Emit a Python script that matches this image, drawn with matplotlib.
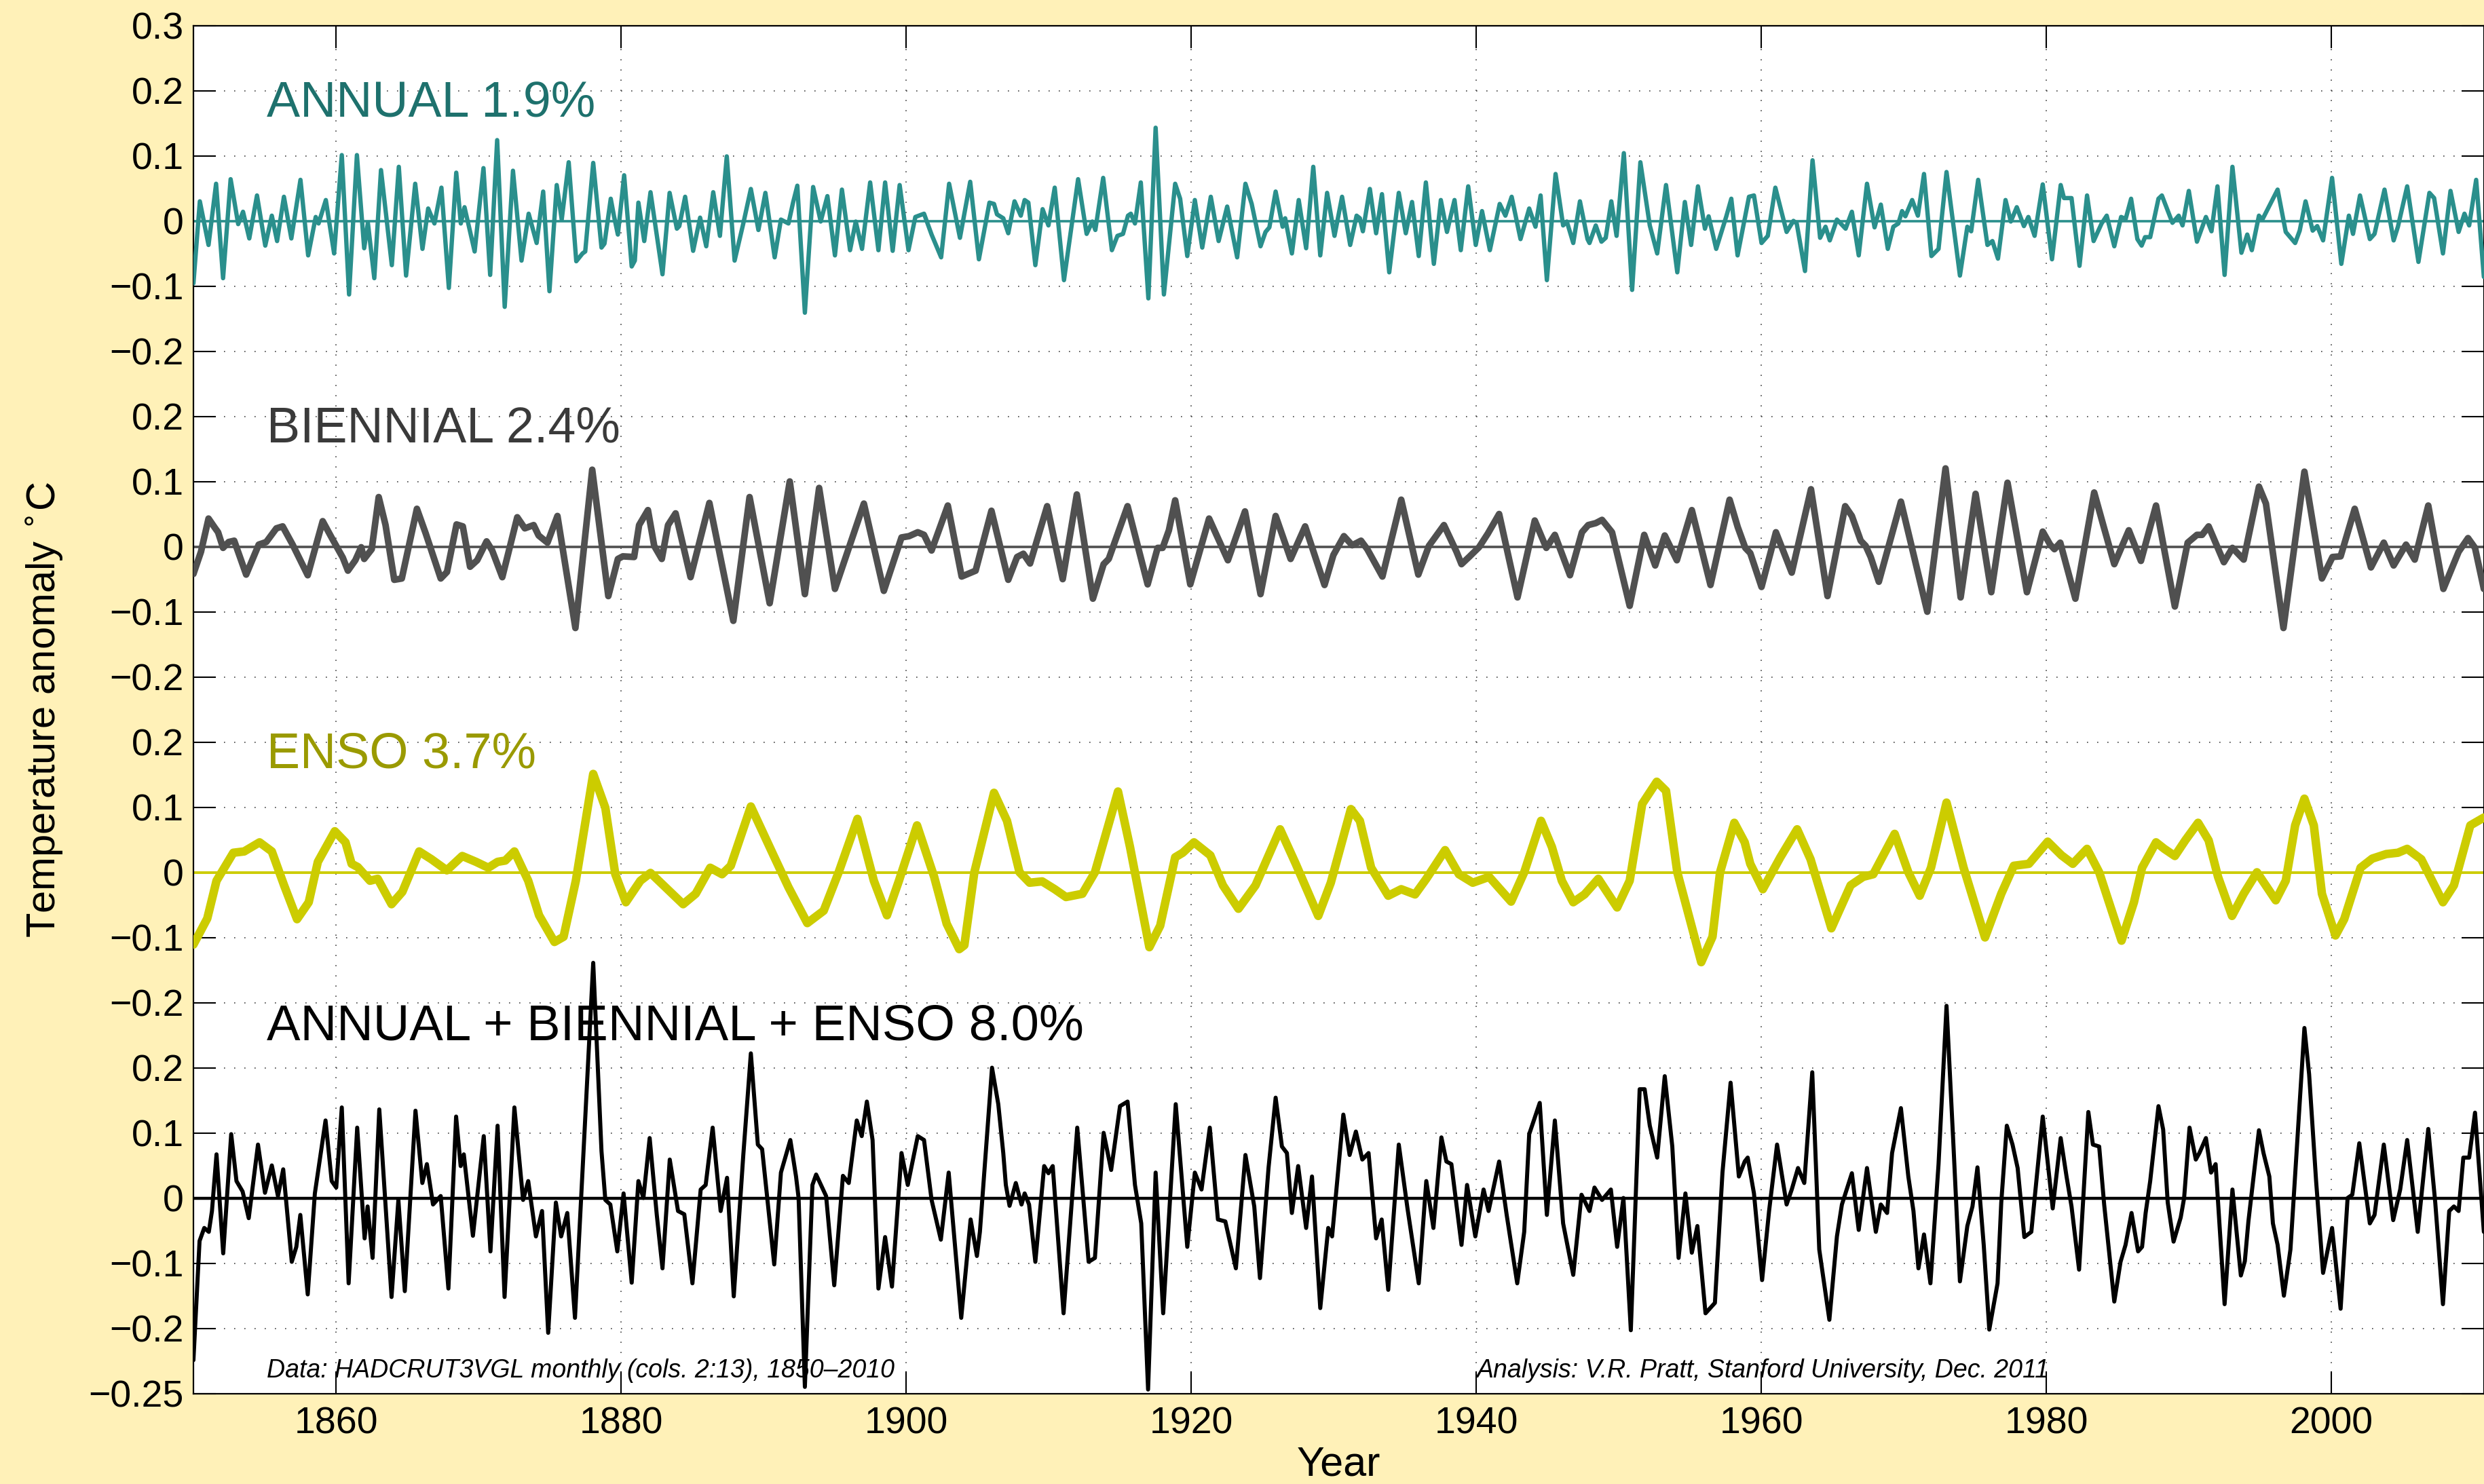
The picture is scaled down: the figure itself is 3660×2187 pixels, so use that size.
import matplotlib
matplotlib.use('Agg')
import matplotlib.pyplot as plt
import numpy as np

plt.rcParams['font.family'] = ['Liberation Sans', 'DejaVu Sans']

# ---------------- data ----------------
annual_year = [1850.0, 1850.45, 1851.06, 1851.59, 1852.08, 1852.61, 1853.14, 1853.48, 1853.92, 1854.46, 1855.04, 1855.50, 1855.87, 1856.35, 1856.87, 1857.51, 1858.05, 1858.58, 1858.78, 1859.29, 1859.87, 1860.41, 1860.92, 1861.47, 1861.98, 1862.24, 1862.69, 1863.16, 1863.92, 1864.41, 1864.92, 1865.56, 1866.07, 1866.47, 1866.91, 1867.40, 1867.92, 1868.44, 1868.76, 1869.02, 1869.73, 1870.35, 1870.82, 1871.31, 1871.84, 1872.42, 1873.02, 1873.52, 1874.08, 1874.54, 1874.98, 1875.49, 1875.84, 1876.33, 1876.86, 1877.30, 1877.49,
               1878.05, 1878.63, 1878.84, 1879.28, 1879.51, 1879.78, 1880.22, 1880.75, 1880.97, 1881.22, 1881.63, 1882.07, 1882.91, 1883.41, 1883.92, 1884.09, 1884.50, 1885.06, 1885.55, 1885.98, 1886.47, 1886.94, 1887.42, 1887.97, 1888.58, 1889.11, 1889.64, 1890.13, 1890.78, 1891.22, 1891.75, 1892.07, 1892.37, 1892.90, 1893.48, 1894.01, 1894.48, 1895.01, 1895.50, 1896.07, 1896.47, 1896.91, 1897.48, 1898.06, 1898.53, 1899.06, 1899.55, 1900.17, 1900.65, 1901.26, 1901.79, 1902.46, 1903.02, 1903.78, 1904.50,
               1905.11, 1905.85, 1906.17, 1906.38, 1906.82, 1907.17, 1907.61, 1908.05, 1908.32, 1908.58, 1909.07, 1909.58, 1909.99, 1910.43, 1911.08, 1912.07, 1912.67, 1913.07, 1913.28, 1913.83, 1914.44, 1914.83, 1915.22, 1915.57, 1915.77, 1916.06, 1916.47, 1917.00, 1917.51, 1918.09, 1918.88, 1919.23, 1919.73, 1920.26, 1920.78, 1921.38, 1921.93, 1922.53, 1923.23, 1923.81, 1924.25, 1924.87, 1925.22, 1925.49, 1925.93, 1926.42, 1926.60, 1927.07, 1927.55, 1928.07, 1928.57, 1929.06, 1929.54, 1930.06, 1930.59, 1931.16,
               1931.61, 1931.84, 1932.05, 1932.54, 1932.98, 1933.39, 1933.90, 1934.57, 1935.06, 1935.50, 1935.97, 1936.47, 1937.03, 1937.52, 1937.95, 1938.48, 1938.92, 1939.44, 1939.97, 1940.41, 1940.96, 1941.65, 1942.05, 1942.49, 1943.11, 1943.72, 1944.16, 1944.52, 1944.96, 1945.57, 1946.10, 1946.36, 1946.81, 1947.28, 1947.81, 1947.95, 1948.39, 1948.79, 1949.09, 1949.48, 1949.85, 1950.36, 1950.94, 1951.52, 1951.86, 1952.18, 1952.70, 1953.32, 1954.11, 1954.64, 1955.08, 1955.56, 1956.05, 1956.31, 1956.84, 1957.55, 1957.90, 1958.34,
               1959.14, 1959.49, 1960.02, 1960.46, 1960.99, 1961.78, 1962.26, 1962.49, 1963.07, 1963.60, 1964.13, 1964.51, 1964.81, 1965.31, 1965.92, 1966.36, 1966.84, 1967.42, 1967.95, 1968.39, 1968.88, 1969.27, 1969.62, 1969.88, 1970.11, 1970.59, 1970.99, 1971.42, 1971.94, 1972.44, 1973.00, 1973.94, 1974.46, 1974.73, 1975.22, 1975.87, 1976.22, 1976.61, 1977.14, 1977.51, 1977.93, 1978.43, 1978.74, 1979.18, 1979.75, 1980.40, 1981.01, 1981.24, 1981.77, 1982.33, 1982.86, 1983.32, 1983.88, 1984.24, 1984.77,
               1985.25, 1985.57, 1985.95, 1986.39, 1986.69, 1986.93, 1987.29, 1987.87, 1988.11, 1988.85, 1989.29, 1989.56, 1990.00, 1990.57, 1991.20, 1991.59, 1992.01, 1992.51, 1993.06, 1993.69, 1994.10, 1994.42, 1994.92, 1995.16, 1995.65, 1996.23, 1996.80, 1997.46, 1997.78, 1998.19, 1998.69, 1999.01, 1999.42, 2000.05, 2000.70, 2001.23, 2001.52, 2002.01, 2002.70, 2003.03, 2003.73, 2004.37, 2004.67, 2005.32, 2006.11, 2006.88, 2007.21, 2007.83, 2008.36, 2008.93, 2009.34, 2009.67, 2010.16, 2010.70]
annual_val = [-0.096, 0.030, -0.037, 0.057, -0.088, 0.064, -0.005, 0.014, -0.027, 0.039, -0.038, 0.008, -0.031, 0.037, -0.027, 0.063, -0.053, 0.006, -0.004, 0.032, -0.050, 0.101, -0.113, 0.101, -0.042, -0.003, -0.088, 0.078, -0.068, 0.083, -0.084, 0.057, -0.043, 0.019, -0.004, 0.051, -0.103, 0.074, -0.004, 0.021, -0.047, 0.081, -0.083, 0.124, -0.132, 0.077, -0.061, 0.011, -0.034, 0.045, -0.108, 0.055, 0.002, 0.090, -0.062, -0.050, -0.047,
              0.089, -0.041, -0.035, 0.034, 0.007, -0.021, 0.070, -0.070, -0.061, 0.028, -0.031, 0.044, -0.082, 0.043, -0.012, -0.008, 0.037, -0.046, 0.005, -0.039, 0.044, -0.023, 0.099, -0.061, -0.004, 0.049, -0.014, 0.043, -0.056, 0.002, -0.004, 0.028, 0.054, -0.141, 0.052, -0.001, 0.038, -0.053, 0.048, -0.045, -0.001, -0.043, 0.059, -0.045, 0.059, -0.046, 0.055, -0.045, 0.006, 0.011, -0.021, -0.056, 0.057, -0.026, 0.060,
              -0.059, 0.028, 0.026, 0.010, 0.004, -0.019, 0.030, 0.008, 0.032, 0.028, -0.068, 0.018, -0.007, 0.051, -0.091, 0.064, -0.020, -0.001, -0.014, 0.066, -0.045, -0.023, -0.020, 0.008, 0.011, -0.004, 0.059, -0.119, 0.143, -0.113, 0.057, 0.034, -0.054, 0.032, -0.041, 0.037, -0.031, 0.022, -0.056, 0.057, 0.026, -0.039, -0.017, -0.010, 0.045, -0.009, 0.004, -0.050, 0.032, -0.042, 0.083, -0.053, 0.043, -0.023, 0.037, -0.037,
              0.008, 0.004, -0.016, 0.049, -0.019, 0.041, -0.079, 0.043, -0.019, 0.029, -0.054, 0.059, -0.066, 0.032, -0.017, 0.032, -0.045, 0.053, -0.037, 0.015, -0.045, 0.026, 0.008, 0.037, -0.028, 0.019, -0.009, 0.039, -0.091, 0.072, -0.007, -0.001, -0.034, 0.030, -0.028, -0.034, -0.007, -0.032, -0.026, 0.030, -0.023, 0.104, -0.106, 0.090, 0.040, -0.007, -0.050, 0.055, -0.079, 0.029, -0.037, 0.053, -0.012, 0.007, -0.043, 0.007, 0.034, -0.053,
              0.037, 0.039, -0.034, -0.023, 0.051, -0.017, 0.000, -0.004, -0.077, 0.093, -0.026, -0.009, -0.030, 0.002, -0.012, 0.014, -0.053, 0.057, -0.010, 0.025, -0.043, -0.009, -0.004, 0.015, 0.007, 0.032, 0.008, 0.072, -0.054, -0.043, 0.075, -0.084, -0.009, -0.016, 0.063, -0.037, -0.031, -0.058, 0.032, -0.001, 0.021, -0.008, 0.006, -0.023, 0.056, -0.059, 0.055, 0.035, 0.035, -0.069, 0.039, -0.031, -0.004, 0.008, -0.039,
              0.006, 0.003, 0.034, -0.028, -0.038, -0.025, -0.025, 0.034, 0.039, -0.003, 0.008, -0.007, 0.046, -0.032, 0.006, -0.016, 0.053, -0.083, 0.083, -0.049, -0.021, -0.045, 0.008, 0.002, 0.023, 0.048, -0.017, -0.034, -0.015, 0.030, -0.015, -0.008, -0.030, 0.066, -0.066, 0.008, -0.020, 0.039, -0.028, -0.020, 0.048, -0.030, -0.009, 0.053, -0.063, 0.043, 0.035, -0.050, 0.046, -0.017, 0.011, -0.007, 0.063, -0.086]

biennial_year = [1850.0, 1850.53, 1851.06, 1851.50, 1851.73, 1852.08, 1852.47, 1852.86, 1853.70, 1854.14, 1854.58, 1855.11, 1855.82, 1856.26, 1856.96, 1858.02, 1859.07, 1859.69, 1860.48, 1860.84, 1861.36, 1861.77, 1861.98, 1862.51, 1863.00, 1863.48, 1864.09, 1864.62, 1865.68, 1866.30, 1867.35, 1867.79, 1868.46, 1868.90, 1869.41, 1869.91, 1870.57, 1870.96, 1871.67, 1872.72, 1873.25, 1873.87, 1874.22, 1874.84, 1875.54, 1876.80,
                 1877.98, 1879.11, 1879.78, 1880.13, 1880.92, 1881.27, 1881.89, 1882.33, 1882.86, 1883.30, 1883.83, 1884.88, 1886.20, 1887.88, 1889.02, 1890.43, 1891.84, 1892.90, 1893.90, 1895.01, 1897.04, 1898.44, 1899.68, 1900.21, 1900.82, 1901.26, 1901.79, 1902.93, 1903.90,
                 1904.88, 1905.99, 1907.17, 1907.79, 1908.23, 1908.70, 1909.90, 1910.99, 1911.98, 1913.11, 1913.86, 1914.22, 1915.54, 1916.95, 1917.65, 1918.00, 1918.44, 1918.88, 1919.94, 1921.26, 1922.58, 1923.78, 1924.87, 1925.93, 1926.98, 1928.00, 1929.36, 1929.98, 1930.72, 1931.30,
                 1931.92, 1932.36, 1933.42, 1934.74, 1935.94, 1936.68, 1937.74, 1938.62, 1938.97, 1939.50, 1940.20, 1940.82, 1941.61, 1942.90, 1944.11, 1944.92, 1945.52, 1946.58, 1947.42, 1947.86, 1948.39, 1948.83, 1949.53, 1950.77, 1951.79, 1952.56, 1953.23, 1954.08, 1955.13, 1956.44, 1957.78, 1958.35,
                 1958.88, 1959.23, 1960.02, 1961.03, 1962.14, 1963.49, 1964.65, 1965.89, 1966.36, 1966.98, 1967.33, 1967.68, 1968.25, 1969.80, 1971.65, 1972.93, 1973.99, 1975.04, 1976.14, 1977.28, 1978.64, 1979.75, 1980.27, 1980.57, 1980.98, 1982.04, 1983.36, 1984.06, 1984.77, 1985.79,
                 1986.64, 1987.70, 1989.02, 1989.92, 1990.57, 1990.93, 1991.39, 1992.46, 1993.06, 1993.85, 1994.92, 1995.41, 1996.64, 1998.11, 1999.34, 2000.08, 2000.65, 2001.64, 2002.78, 2003.68, 2004.37, 2005.24, 2005.85, 2006.80, 2007.86, 2008.93, 2009.59, 2010.08, 2010.70]
biennial_val = [-0.042, -0.008, 0.043, 0.029, 0.022, -0.002, 0.007, 0.009, -0.043, -0.020, 0.003, 0.007, 0.028, 0.031, 0.003, -0.044, 0.039, 0.014, -0.017, -0.037, -0.021, -0.001, -0.019, -0.004, 0.076, 0.033, -0.051, -0.049, 0.058, 0.020, -0.049, -0.039, 0.034, 0.031, -0.031, -0.021, 0.008, -0.006, -0.047, 0.045, 0.028, 0.033, 0.017, 0.006, 0.047, -0.125,
                0.118, -0.076, -0.019, -0.015, -0.016, 0.033, 0.056, 0.001, -0.019, 0.033, 0.051, -0.047, 0.067, -0.114, 0.076, -0.087, 0.100, -0.073, 0.090, -0.065, 0.066, -0.068, 0.014, 0.016, 0.022, 0.018, -0.006, 0.063, -0.046,
                -0.037, 0.055, -0.051, -0.016, -0.011, -0.026, 0.062, -0.050, 0.080, -0.080, -0.027, -0.019, 0.062, -0.058, -0.002, -0.002, 0.025, 0.071, -0.058, 0.043, -0.021, 0.054, -0.073, 0.047, -0.019, 0.031, -0.059, -0.013, 0.016, 0.002,
                0.009, -0.004, -0.046, 0.072, -0.043, 0.001, 0.033, -0.008, -0.027, -0.016, -0.001, 0.020, 0.050, -0.078, 0.040, -0.002, 0.018, -0.044, 0.022, 0.033, 0.036, 0.041, 0.022, -0.091, 0.018, -0.029, 0.017, -0.021, 0.056, -0.059, 0.072, 0.030,
                -0.002, -0.010, -0.062, 0.022, -0.040, 0.088, -0.076, 0.062, 0.047, 0.009, 0.001, -0.016, -0.054, 0.069, -0.100, 0.120, -0.078, 0.081, -0.070, 0.098, -0.070, 0.023, 0.003, -0.004, 0.006, -0.080, 0.083, 0.028, -0.027, 0.025,
                -0.022, 0.063, -0.092, 0.006, 0.018, 0.018, 0.031, -0.024, -0.002, -0.020, 0.092, 0.066, -0.125, 0.115, -0.049, -0.016, -0.015, 0.058, -0.032, 0.006, -0.029, 0.003, -0.020, 0.063, -0.065, -0.008, 0.013, -0.002, -0.065]

enso_year = [1850.0, 1850.97, 1851.62, 1852.80, 1853.56, 1854.64, 1855.50, 1856.36, 1857.27, 1858.09, 1858.73, 1859.92, 1860.67, 1861.10, 1861.53, 1862.39, 1862.93, 1863.90, 1864.66, 1865.84, 1866.70, 1867.78, 1868.86, 1869.83, 1870.69, 1871.34, 1871.88, 1872.52, 1873.49, 1874.25, 1875.33, 1875.97, 1876.83,
             1878.05, 1878.90, 1879.60, 1880.34, 1881.36, 1882.07, 1883.12, 1884.36, 1885.24, 1886.26, 1887.09, 1887.70, 1889.11, 1890.70, 1891.75, 1893.07, 1894.22, 1895.27, 1896.59, 1897.74, 1898.66, 1899.50, 1900.77, 1901.97, 1902.85, 1903.73, 1904.09, 1904.79,
             1906.17, 1907.08, 1907.96, 1908.67, 1909.55, 1910.43, 1911.22, 1912.37, 1913.25, 1914.87, 1915.71, 1917.07, 1917.83, 1918.88, 1919.41, 1920.20, 1921.35, 1922.23, 1923.32, 1924.52, 1926.24, 1927.34, 1928.92, 1929.80, 1931.21,
             1931.84, 1932.63, 1933.83, 1934.74, 1935.71, 1936.50, 1937.82, 1938.79, 1939.76, 1940.91, 1942.45, 1943.37, 1944.55, 1945.31, 1946.01, 1946.81, 1947.60, 1948.57, 1949.89, 1950.77, 1951.65, 1952.67, 1953.32, 1954.11, 1955.79, 1956.58, 1957.11, 1958.11, 1958.84,
             1959.23, 1960.11, 1961.34, 1962.52, 1963.46, 1964.92, 1966.27, 1967.15, 1967.86, 1969.36, 1970.32, 1971.12, 1971.91, 1973.00, 1974.20, 1975.70, 1976.84, 1977.72, 1978.78, 1980.10, 1981.07, 1981.86, 1982.86, 1983.71, 1985.28,
             1986.15, 1986.72, 1987.70, 1988.28, 1989.02, 1989.75, 1990.65, 1991.39, 1992.05, 1993.03, 1993.85, 1994.78, 1996.10, 1996.80, 1997.46, 1998.11, 1998.77, 1999.34, 2000.29, 2000.90, 2002.05, 2002.87, 2003.85, 2004.67, 2005.32, 2006.31, 2007.83, 2008.60, 2009.75, 2010.70]
enso_val = [-0.111, -0.071, -0.013, 0.030, 0.032, 0.046, 0.032, -0.020, -0.072, -0.046, 0.016, 0.063, 0.046, 0.013, 0.008, -0.013, -0.010, -0.049, -0.030, 0.032, 0.020, 0.003, 0.025, 0.016, 0.007, 0.016, 0.018, 0.032, -0.013, -0.066, -0.107, -0.099, -0.013,
            0.151, 0.099, -0.003, -0.046, -0.013, -0.001, -0.023, -0.049, -0.033, 0.007, -0.003, 0.010, 0.101, 0.026, -0.023, -0.078, -0.059, 0.000, 0.082, -0.013, -0.066, -0.013, 0.072, -0.007, -0.079, -0.118, -0.112, 0.000,
            0.122, 0.079, 0.000, -0.016, -0.014, -0.026, -0.038, -0.033, 0.000, 0.124, 0.039, -0.115, -0.082, 0.023, 0.030, 0.046, 0.026, -0.020, -0.056, -0.020, 0.066, 0.013, -0.067, -0.016, 0.097,
            0.079, 0.007, -0.036, -0.026, -0.034, -0.010, 0.034, -0.003, -0.016, -0.007, -0.045, 0.000, 0.079, 0.039, -0.013, -0.046, -0.034, -0.010, -0.054, -0.013, 0.105, 0.139, 0.125, 0.000, -0.138, -0.099, 0.000, 0.076, 0.046,
            0.013, -0.026, 0.023, 0.066, 0.020, -0.086, -0.020, -0.007, -0.003, 0.059, 0.000, -0.036, 0.007, 0.107, 0.007, -0.100, -0.033, 0.010, 0.013, 0.047, 0.026, 0.013, 0.036, 0.000, -0.105,
            -0.046, 0.007, 0.046, 0.036, 0.025, 0.049, 0.076, 0.049, -0.007, -0.067, -0.033, 0.000, -0.043, -0.013, 0.072, 0.113, 0.072, -0.033, -0.097, -0.072, 0.007, 0.021, 0.028, 0.030, 0.036, 0.020, -0.046, -0.020, 0.072, 0.084]

total_year = [1850.0, 1850.43, 1850.76, 1851.08, 1851.30, 1851.62, 1852.09, 1852.65, 1853.02, 1853.45, 1853.88, 1854.53, 1855.02, 1855.50, 1855.93, 1856.30, 1856.90, 1857.22, 1857.50, 1858.02, 1858.52, 1859.27, 1859.70, 1860.02, 1860.41, 1860.89, 1861.49, 1862.01, 1862.22, 1862.57, 1863.04, 1863.90, 1864.38, 1864.83, 1865.58, 1866.06, 1866.38, 1866.81, 1867.35, 1867.89, 1868.43, 1868.75, 1868.97, 1869.61, 1870.37, 1870.84, 1871.34, 1871.83, 1872.52, 1873.13, 1873.49, 1874.03, 1874.46, 1874.89, 1875.43, 1875.80, 1876.23, 1876.77,
              1878.05, 1878.63, 1878.90, 1879.25, 1879.74, 1880.18, 1880.75, 1881.22, 1881.57, 1882.01, 1882.51, 1882.91, 1883.42, 1884.00, 1884.44, 1885.01, 1885.59, 1885.94, 1886.43, 1886.99, 1887.44, 1887.91, 1888.58, 1889.11, 1889.60, 1889.90, 1890.75, 1891.22, 1891.88, 1892.28, 1892.46, 1892.90, 1893.43, 1893.69, 1894.39, 1894.96, 1895.57, 1895.98, 1896.54, 1896.89, 1897.25, 1897.65, 1898.06, 1898.53, 1899.01, 1899.68, 1900.12, 1900.82, 1901.26, 1901.79, 1902.44, 1902.99, 1903.87,
              1904.53, 1904.97, 1905.18, 1906.03, 1906.47, 1906.82, 1907.00, 1907.26, 1907.70, 1908.10, 1908.32, 1908.63, 1909.07, 1909.69, 1909.99, 1910.29, 1911.05, 1912.01, 1912.81, 1913.25, 1913.86, 1914.39, 1915.01, 1915.54, 1916.06, 1916.50, 1916.98, 1917.51, 1918.04, 1918.92, 1919.73, 1920.26, 1920.73, 1921.31, 1921.88, 1922.40, 1923.14, 1923.81, 1924.43, 1924.83, 1925.43, 1925.93, 1926.37, 1926.72, 1927.07, 1927.51, 1928.07, 1928.48, 1929.06, 1929.62, 1929.89, 1930.68, 1931.12, 1931.56,
              1932.01, 1932.45, 1932.98, 1933.37, 1933.83, 1934.57, 1934.92, 1935.18, 1935.97, 1936.50, 1937.00, 1937.56, 1937.91, 1938.26, 1938.97, 1939.36, 1939.94, 1940.52, 1940.87, 1941.61, 1942.14, 1942.88, 1943.37, 1943.72, 1944.46, 1944.96, 1945.52, 1946.10, 1946.81, 1947.39, 1947.95, 1948.30, 1948.83, 1949.45, 1949.89, 1950.33, 1950.85, 1951.47, 1951.82, 1952.18, 1952.70, 1953.23, 1953.76, 1954.20, 1954.68, 1955.13, 1955.52, 1956.09, 1956.75, 1957.28, 1957.85, 1958.43, 1958.84,
              1959.05, 1959.49, 1960.06, 1960.55, 1961.11, 1961.78, 1962.14, 1962.58, 1963.02, 1963.58, 1964.07, 1964.78, 1965.31, 1965.66, 1966.36, 1966.84, 1967.42, 1968.04, 1968.39, 1968.83, 1969.18, 1969.80, 1970.32, 1970.68, 1971.03, 1971.42, 1971.87, 1972.44, 1973.00, 1973.49, 1973.94, 1974.46, 1974.82, 1975.17, 1975.61, 1976.00, 1976.58, 1976.84, 1977.23, 1977.63, 1977.99, 1978.46, 1978.95, 1979.75, 1980.45, 1981.01, 1981.42, 1981.77, 1982.30, 1982.95, 1983.27, 1983.71, 1984.06, 1984.77, 1985.21, 1985.56,
              1985.98, 1986.44, 1986.72, 1986.97, 1987.29, 1987.87, 1988.20, 1988.52, 1988.93, 1989.43, 1989.67, 1990.05, 1990.49, 1990.74, 1991.20, 1991.56, 1991.88, 1992.51, 1993.06, 1993.65, 1993.93, 1994.18, 1994.92, 1995.24, 1995.65, 1995.90, 1996.23, 1996.67, 1997.13, 1998.11, 1998.44, 1998.93, 1999.42, 2000.05, 2000.65, 2001.14, 2001.47, 2001.96, 2002.70, 2003.03, 2003.68, 2004.34, 2004.83, 2005.32, 2006.06, 2006.80, 2007.29, 2007.83, 2008.27, 2008.60, 2008.93, 2009.26, 2009.67, 2010.08, 2010.70]
total_val = [-0.249, -0.066, -0.046, -0.052, -0.020, 0.067, -0.085, 0.098, 0.026, 0.010, -0.031, 0.082, 0.008, 0.050, 0.003, 0.044, -0.098, -0.075, -0.026, -0.148, 0.007, 0.119, 0.026, 0.016, 0.139, -0.131, 0.108, -0.062, -0.013, -0.092, 0.136, -0.152, -0.003, -0.143, 0.134, 0.023, 0.052, -0.010, 0.003, -0.139, 0.125, 0.049, 0.067, -0.058, 0.095, -0.082, 0.111, -0.152, 0.139, -0.003, 0.026, -0.059, -0.020, -0.207, -0.007, -0.059, -0.023, -0.184,
             0.361, 0.072, -0.003, -0.010, -0.082, 0.007, -0.130, 0.026, 0.000, 0.092, -0.026, -0.108, 0.059, -0.020, -0.025, -0.131, 0.013, 0.020, 0.108, -0.020, 0.031, -0.151, 0.066, 0.222, 0.082, 0.075, -0.102, 0.039, 0.089, 0.033, 0.000, -0.290, 0.020, 0.036, 0.003, -0.134, 0.034, 0.023, 0.119, 0.095, 0.148, 0.089, -0.139, -0.060, -0.136, 0.069, 0.020, 0.095, 0.089, -0.003, -0.064, 0.039, -0.184,
             -0.033, -0.089, -0.052, 0.200, 0.144, 0.069, 0.020, -0.012, 0.023, -0.010, 0.007, -0.010, -0.098, 0.049, 0.038, 0.049, -0.177, 0.108, -0.098, -0.092, 0.100, 0.043, 0.141, 0.148, 0.020, -0.039, -0.294, 0.039, -0.177, 0.144, -0.075, 0.039, 0.013, 0.108, -0.033, -0.036, -0.108, 0.066, -0.013, -0.123, 0.046, 0.154, 0.079, 0.069, -0.023, 0.049, -0.046, 0.033, -0.169, -0.046, -0.059, 0.128, 0.066, 0.102,
             0.059, 0.069, -0.062, -0.033, -0.141, 0.082, 0.026, -0.016, -0.131, 0.026, -0.046, 0.093, 0.056, 0.052, -0.072, 0.020, -0.059, 0.013, -0.020, 0.056, -0.026, -0.131, -0.052, 0.098, 0.146, -0.026, 0.119, -0.039, -0.118, 0.005, -0.020, 0.016, -0.003, 0.013, -0.075, 0.000, -0.203, 0.167, 0.167, 0.111, 0.062, 0.187, 0.079, -0.092, 0.007, -0.084, -0.043, -0.177, -0.161, 0.039, 0.177, 0.033, 0.056,
             0.062, 0.007, -0.126, -0.020, 0.082, -0.010, 0.013, 0.046, 0.023, 0.193, -0.079, -0.187, -0.059, -0.010, 0.038, -0.049, 0.046, -0.052, -0.010, -0.023, 0.069, 0.138, 0.033, -0.020, -0.108, -0.056, -0.131, 0.052, 0.295, 0.079, -0.128, -0.043, -0.013, 0.047, -0.072, -0.202, -0.131, -0.007, 0.111, 0.082, 0.046, -0.060, -0.052, 0.125, -0.016, 0.092, 0.033, -0.013, -0.110, 0.132, 0.082, 0.079, -0.010, -0.159, -0.098, -0.072,
             -0.023, -0.082, -0.075, -0.023, 0.026, 0.141, 0.105, -0.007, -0.067, -0.030, 0.000, 0.108, 0.059, 0.069, 0.092, 0.039, 0.052, -0.163, 0.013, -0.119, -0.097, -0.036, 0.104, 0.069, 0.033, -0.039, -0.072, -0.150, -0.079, 0.261, 0.190, 0.026, -0.115, -0.046, -0.170, 0.000, 0.005, 0.084, -0.039, -0.026, 0.082, -0.034, 0.013, 0.089, -0.052, 0.106, -0.007, -0.163, -0.020, -0.013, -0.020, 0.062, 0.062, 0.131, -0.052]

series_names = ['ANNUAL 1.9%', 'BIENNIAL 2.4%', 'ENSO 3.7%', 'ANNUAL + BIENNIAL + ENSO 8.0%']

xtick_years = [1860, 1880, 1900, 1920, 1940, 1960, 1980, 2000]
ytick_labels = ['\u22120.25', '\u22120.2', '\u22120.1', '0', '0.1', '0.2',
                '\u22120.2', '\u22120.1', '0', '0.1', '0.2',
                '\u22120.2', '\u22120.1', '0', '0.1', '0.2',
                '\u22120.2', '\u22120.1', '0', '0.1', '0.2', '0.3']

# ---------------- styling / layout ----------------
W, H = 3660, 2187
fig = plt.figure(figsize=(W / 100, H / 100), dpi=100, facecolor='#FFF1B8')
ax = fig.add_axes([285 / W, 1 - 2053.5 / H, 3375 / W, 2016 / H])
ax.set_facecolor('white')

XMIN, XMAX = 1850, 2010.71
YMIN, YMAX = -0.3, 1.8
ax.set_xlim(XMIN, XMAX)
ax.set_ylim(YMIN, YMAX)

offsets = [1.5, 1.0, 0.5, 0.0]
line_colors = ['#2A8F8C', '#505050', '#CCCC00', '#000000']
text_colors = ['#1E716D', '#3A3A3A', '#9A9A00', '#000000']
line_widths = [4.6, 7.0, 9.0, 4.3]
zero_widths = [2.6, 2.6, 2.8, 3.2]
label_dy = [0.16, 0.16, 0.16, 0.243]
label_sizes = [53, 53, 53, 53.5]

years = [annual_year, biennial_year, enso_year, total_year]
values = [annual_val, biennial_val, enso_val, total_val]

for k in range(4):
    ax.axhline(offsets[k], color=line_colors[k], lw=zero_widths[k], zorder=2)
    ax.plot(np.asarray(years[k]), np.asarray(values[k]) + offsets[k],
            color=line_colors[k], lw=line_widths[k], solid_joinstyle='round',
            solid_capstyle='round', zorder=3)
    ax.text(1855.15, offsets[k] + label_dy[k], series_names[k], color=text_colors[k],
            fontsize=label_sizes[k], ha='left', va='baseline', zorder=4)

# ticks and grid
yticks = np.round(np.arange(YMIN, YMAX + 0.05, 0.1), 2)
ax.set_yticks(yticks)
ax.set_yticklabels(ytick_labels)
ax.set_xticks(xtick_years)
ax.set_xticklabels([str(y) for y in xtick_years])
ax.tick_params(axis='both', which='major', direction='in', length=24, width=1.5,
               labelsize=40, top=True, right=True, colors='black')
ax.tick_params(axis='y', pad=10)
ax.tick_params(axis='x', pad=14)
ax.grid(True, color='#444444', linestyle=(0, (1, 8)), linewidth=1.2, zorder=1)
ax.set_axisbelow(True)
for s in ax.spines.values():
    s.set_linewidth(1.6)

ax.set_xlabel('Year', fontsize=44)
ax.xaxis.set_label_coords(0.5, -0.038)
ax.xaxis.label.set_va('top')
ax.set_ylabel('Temperature anomaly $^{\\circ}$C', fontsize=43)
ax.yaxis.set_label_coords(-0.065, 0.5)
ax.yaxis.label.set_va('center')

# footnotes
ax.text(1855.15, -0.276, 'Data: HADCRUT3VGL monthly (cols. 2:13), 1850\u20132010',
        fontsize=27, style='italic', ha='left', va='baseline', zorder=4)
ax.text(1940.05, -0.276, 'Analysis: V.R. Pratt, Stanford University, Dec. 2011',
        fontsize=27, style='italic', ha='left', va='baseline', zorder=4)

fig.savefig('out.png', dpi=100, facecolor=fig.get_facecolor())
